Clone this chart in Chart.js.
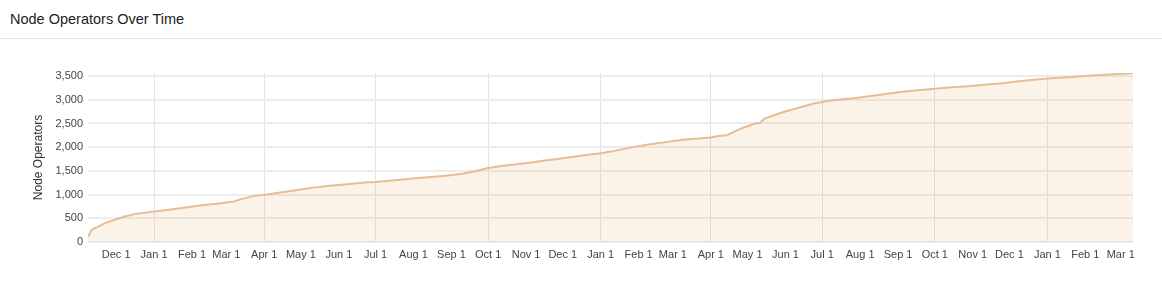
<!DOCTYPE html>
<html>
<head>
<meta charset="utf-8">
<script src="https://cdn.jsdelivr.net/npm/chart.js@4.4.1/dist/chart.umd.min.js"></script>
<style>
  html, body { margin: 0; padding: 0; background: #fff; }
  body { width: 1162px; height: 282px; overflow: hidden; font-family: "Helvetica Neue", Arial, "Liberation Sans", sans-serif; }
  .header { height: 38px; border-bottom: 1px solid #e3e3e3; }
  .header h3 { margin: 0; padding: 0 10px; line-height: 38px; font-size: 14.5px; font-weight: normal; color: #222; }
  .chart-wrap { position: relative; width: 1162px; height: 243px; }
</style>
</head>
<body>
<div class="header"><h3>Node Operators Over Time</h3></div>
<div class="chart-wrap"><canvas id="chart"></canvas></div>
<script>
// values
const dates = [
  '2021-11-08', '2021-11-11', '2021-11-15', '2021-11-22', '2021-11-30', '2021-12-08', '2021-12-16',
  '2022-01-01', '2022-01-13', '2022-01-27', '2022-02-09', '2022-02-23', '2022-03-07', '2022-03-14',
  '2022-03-24', '2022-04-01', '2022-04-14', '2022-04-28', '2022-05-11', '2022-05-25', '2022-06-08',
  '2022-06-24', '2022-07-01', '2022-07-17', '2022-07-31', '2022-08-13', '2022-08-27', '2022-09-10',
  '2022-09-21', '2022-10-01', '2022-10-12', '2022-10-26', '2022-11-08', '2022-11-19', '2022-11-27',
  '2022-12-08', '2022-12-22', '2023-01-01', '2023-01-13', '2023-01-26', '2023-02-09', '2023-02-23',
  '2023-03-09', '2023-03-22', '2023-04-01', '2023-04-07', '2023-04-14', '2023-04-26', '2023-05-07',
  '2023-05-11', '2023-05-15', '2023-05-29', '2023-06-11', '2023-06-25', '2023-07-01', '2023-07-11',
  '2023-07-27', '2023-08-13', '2023-08-26', '2023-09-08', '2023-09-22', '2023-10-01', '2023-10-15',
  '2023-10-28', '2023-11-11', '2023-11-25', '2023-12-11', '2023-12-25', '2024-01-07', '2024-01-21',
  '2024-02-03', '2024-02-17', '2024-03-02', '2024-03-11'
];
const operators = [
  110, 258, 307, 399, 468, 538, 588,
  643, 679, 727, 777, 811, 853, 910,
  973, 994, 1042, 1099, 1147, 1189, 1218,
  1260, 1267, 1302, 1337, 1366, 1400, 1442,
  1498, 1561, 1603, 1645, 1687, 1729, 1752,
  1792, 1841, 1870, 1925, 1996, 2059, 2107,
  2156, 2185, 2206, 2235, 2254, 2395, 2500,
  2510, 2605, 2731, 2828, 2927, 2954, 2996,
  3032, 3088, 3137, 3179, 3214, 3235, 3263,
  3284, 3319, 3347, 3396, 3431, 3459, 3480,
  3508, 3529, 3550, 3565
];
const tickMonths = [
  '2021-12-01', '2022-01-01', '2022-02-01', '2022-03-01', '2022-04-01', '2022-05-01', '2022-06-01',
  '2022-07-01', '2022-08-01', '2022-09-01', '2022-10-01', '2022-11-01', '2022-12-01',
  '2023-01-01', '2023-02-01', '2023-03-01', '2023-04-01', '2023-05-01', '2023-06-01',
  '2023-07-01', '2023-08-01', '2023-09-01', '2023-10-01', '2023-11-01', '2023-12-01',
  '2024-01-01', '2024-02-01', '2024-03-01'
];
const yTicks = [0, 500, 1000, 1500, 2000, 2500, 3000, 3500];
const monthNames = ['Jan', 'Feb', 'Mar', 'Apr', 'May', 'Jun', 'Jul', 'Aug', 'Sep', 'Oct', 'Nov', 'Dec'];

function dayNum(s) {
  const [y, m, d] = s.split('-').map(Number);
  return Date.UTC(y, m - 1, d) / 86400000;
}
const monthOf = s => Number(s.split('-')[1]) - 1;
const tickDays = tickMonths.map(dayNum);
const tickLabels = tickMonths.map(s => monthNames[monthOf(s)] + ' ' + Number(s.split('-')[2]));

const points = dates.map((d, i) => ({ x: dayNum(d), y: operators[i] }));

new Chart(document.getElementById('chart'), {
  type: 'line',
  data: {
    datasets: [{
      label: 'Node Operators',
      data: points,
      borderColor: '#e6bd94',
      backgroundColor: 'rgba(236, 190, 140, 0.2)',
      borderWidth: 2,
      pointRadius: 0,
      tension: 0,
      fill: 'origin'
    }]
  },
  options: {
    responsive: true,
    maintainAspectRatio: false,
    animation: false,
    layout: { padding: { top: 34, right: 29, left: 0, bottom: 0 } },
    plugins: { legend: { display: false }, tooltip: { enabled: false } },
    scales: {
      x: {
        type: 'linear',
        min: dayNum(dates[0]),
        max: dayNum(dates[dates.length - 1]),
        afterBuildTicks: s => { s.ticks = tickDays.map(v => ({ value: v })); },
        afterFit: s => { s.height = 40; },
        border: { display: false },
        grid: {
          drawTicks: false,
          lineWidth: 1,
          color: ctx => (ctx.index !== undefined && monthOf(tickMonths[ctx.index] || '0-1') % 3 === 0) ? '#e2e2e2' : 'rgba(0,0,0,0)'
        },
        ticks: {
          autoSkip: false,
          maxRotation: 0,
          padding: 6,
          color: '#444',
          font: { size: 11, family: '"Helvetica Neue", Arial, "Liberation Sans", sans-serif' },
          callback: (v, i) => tickLabels[i]
        }
      },
      y: {
        min: 0,
        max: 3565,
        afterBuildTicks: s => { s.ticks = yTicks.map(v => ({ value: v })); },
        afterFit: s => { s.width = 88; },
        border: { display: false },
        grid: { drawTicks: false, lineWidth: 2, color: '#ececec' },
        ticks: {
          padding: 5,
          color: '#444',
          font: { size: 11, family: '"Helvetica Neue", Arial, "Liberation Sans", sans-serif' },
          callback: v => v.toLocaleString('en-US')
        },
        title: {
          display: true,
          text: 'Node Operators',
          color: '#333',
          font: { size: 12, family: '"Helvetica Neue", Arial, "Liberation Sans", sans-serif' },
          padding: { top: 31, bottom: 0 }
        }
      }
    }
  }
});
</script>
</body>
</html>
